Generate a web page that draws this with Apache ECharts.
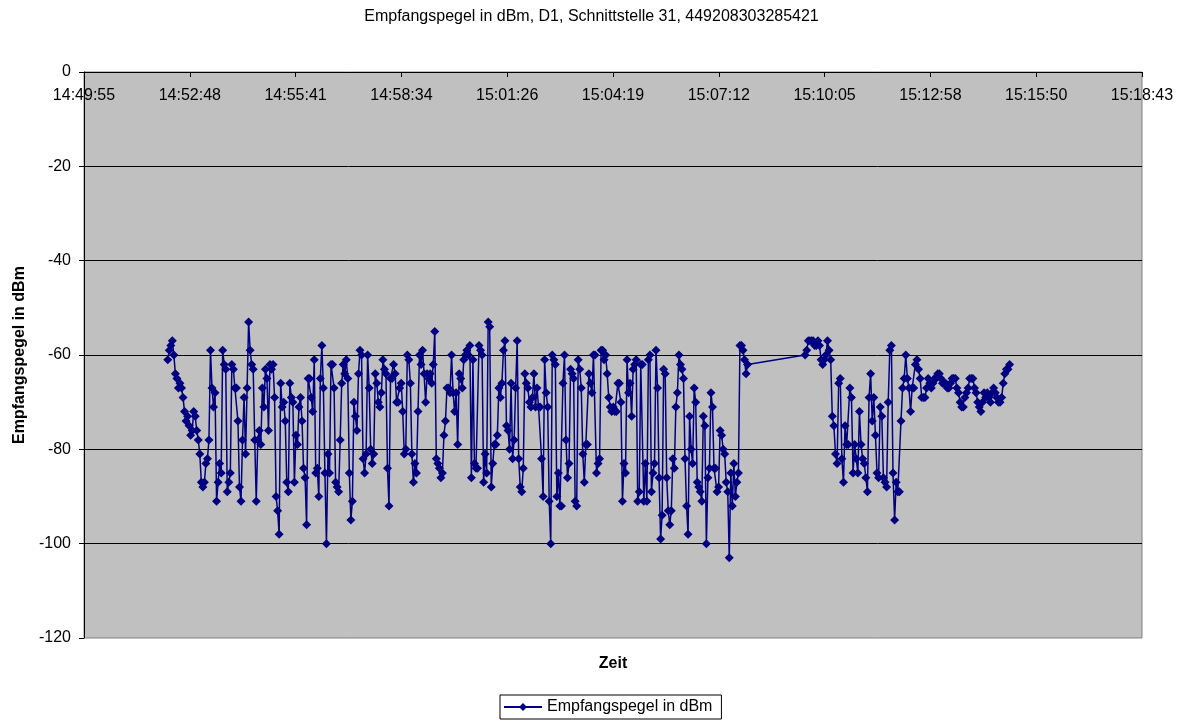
<!DOCTYPE html>
<html>
<head>
<meta charset="utf-8">
<script src="https://cdn.jsdelivr.net/npm/echarts@6/dist/echarts.min.js"></script>
<style>
  html, body { margin: 0; padding: 0; background: #fff; }
  #chart { width: 1183px; height: 721px; }
</style>
</head>
<body>
<div id="chart"></div>
<script>
// Messreihe 1 (14:52:12 - 15:07:59), Pegel in dBm
var seg1Start = "14:52:12";
var seg1End = "15:07:59";
var seg1Values = [
  -61, -59, -58, -57, -60, -64, -65, -67, -66, -67, -69, -72, -74, -73, -75, -77, -76, -72, -73, -76,
  -78, -81, -87, -88, -87, -83, -82, -78, -59, -67, -71, -68, -91, -87, -83, -85, -59, -62, -63, -89,
  -87, -85, -62, -63, -67, -67, -74, -88, -91, -78, -69, -81, -67, -53, -59, -62, -63, -78, -91, -78,
  -76, -79, -67, -71, -63, -65, -76, -62, -63, -62, -69, -90, -93, -98, -66, -71, -70, -74, -87, -89,
  -66, -69, -70, -87, -77, -79, -71, -69, -74, -84, -86, -96, -65, -65, -69, -72, -61, -85, -84, -90,
  -65, -58, -67, -85, -100, -81, -85, -62, -62, -67, -87, -88, -89, -78, -66, -62, -64, -61, -65, -85,
  -95, -91, -70, -73, -76, -64, -59, -60, -82, -85, -81,
  -60, -67, -80, -83, -81, -64, -66, -70, -71, -68, -61, -63, -64, -84, -92, -65, -65, -62, -64, -70,
  -70, -67, -66, -72, -81, -80, -60, -61, -66, -81, -87, -83, -85, -72, -60, -62, -59, -64, -70, -64,
  -65, -64, -66, -62, -55, -82, -83, -84, -86, -85, -77, -74, -67, -67, -68, -60, -68, -72, -68, -79,
  -64, -65, -67, -61, -60, -59, -60,
  -58, -86, -61, -83, -84, -84, -58, -59, -60, -87, -81, -85, -53, -54, -88, -83, -79, -79, -77, -67,
  -69, -66, -59, -57, -75, -76, -80, -66, -82, -78, -67, -57, -82, -88, -89, -84, -64, -66, -67, -70,
  -71, -69, -64, -71, -67, -71, -71, -82, -90, -61, -68, -71, -91, -100, -60, -61, -62, -90, -85, -92,
  -92, -66, -60, -78, -86, -83, -63, -64, -65, -91, -92,
  -61, -63, -67, -81, -87, -79, -79, -64, -66, -68, -60, -60, -85, -83, -82, -59, -59, -61, -60, -64,
  -69, -71, -72, -71, -72, -72, -66, -66, -70, -91, -83, -85, -61, -68, -66, -73, -63, -62, -61, -91,
  -89, -62, -62, -91, -83, -91, -61, -60, -89, -85, -83, -59, -67, -86, -99, -94, -63, -64, -86, -93,
  -96, -93, -82, -84, -71, -68,
  -60, -62, -63, -65, -82, -92, -98, -73, -80, -83, -67, -70, -87, -88, -89, -91, -73, -75, -100, -86,
  -84, -68, -71, -84, -84, -89, -88, -76, -77, -80, -81, -87, -89, -103, -85, -92, -83, -90, -87, -85,
  -58, -58, -59, -61, -64, -62
];

// Messreihe 2 (15:09:33 - 15:15:07)
var seg2Start = "15:09:33";
var seg2End = "15:15:07";
var seg2Values = [
  -60, -59, -57, -57, -57, -57, -58, -58, -57, -58, -61, -62, -61, -60, -57, -59, -61, -73, -75, -81,
  -83, -66, -65, -82, -87, -75, -79, -79, -67, -69, -85, -79, -82, -85, -72, -79, -82, -83, -86, -89,
  -69, -64, -74, -69, -77, -85, -86, -71, -73, -86, -87, -88, -70, -59, -58, -85, -95, -87, -89, -89,
  -74, -67, -65, -60, -65, -67, -72, -67, -67, -62, -61, -63, -65, -69, -69, -69, -67, -65, -66, -67,
  -66, -65, -65, -64, -64, -65, -66, -66, -66, -67, -67, -66, -65, -65, -65, -67, -68, -70, -71, -71,
  -69, -68, -67, -65, -65, -65, -67, -68, -70, -71, -72, -70, -68, -69, -68, -69, -70, -68, -67, -68,
  -69, -70, -70, -69, -66, -64, -63, -63, -62
];

// Achsen
var xMin = 53395.2;      // 14:49:55
var xMax = 55123.2;      // 15:18:43
var xStep = 172.8;       // 0,002 Tage
var yMin = -120;
var yMax = 0;
var yStep = 20;

function toSec(s) {
  var p = s.split(":");
  return (+p[0]) * 3600 + (+p[1]) * 60 + (+p[2]);
}
function pad(n) { return (n < 10 ? "0" : "") + n; }
function fmtTime(v) {
  var s = Math.round(v);
  return Math.floor(s / 3600) + ":" + pad(Math.floor((s % 3600) / 60)) + ":" + pad(s % 60);
}
function buildSeg(start, end, vals) {
  var t0 = toSec(start), t1 = toSec(end);
  var step = (t1 - t0) / (vals.length - 1);
  return vals.map(function (v, i) { return [t0 + i * step, v]; });
}

var data = buildSeg(seg1Start, seg1End, seg1Values).concat(buildSeg(seg2Start, seg2End, seg2Values));
var font = "'Liberation Sans', Arial, sans-serif";

var chart = echarts.init(document.getElementById("chart"));
var option = {
  animation: false,
  backgroundColor: "#fff",
  textStyle: { fontFamily: font, color: "#000" },
  title: {
    text: "Empfangspegel in dBm, D1, Schnittstelle 31, 449208303285421",
    left: "center",
    top: 9,
    padding: 0,
    textStyle: { fontSize: 16, fontWeight: "normal", color: "#000", fontFamily: font }
  },
  grid: {
    left: 84, right: 41, top: 72, bottom: 83,
    show: true,
    backgroundColor: "#c0c0c0",
    borderColor: "#808080",
    borderWidth: 1
  },
  xAxis: {
    type: "value",
    position: "top",   // Achse schneidet bei 0 = oben
    min: xMin,
    max: xMax,
    interval: xStep,
    axisLine: { onZero: false, lineStyle: { color: "#000", width: 1 } },
    axisTick: { show: true, inside: true, length: 5, lineStyle: { color: "#000" } },
    axisLabel: {
      inside: true,
      formatter: fmtTime,
      margin: 16,
      color: "#000",
      fontSize: 16,
      fontFamily: font,
      showMinLabel: true,
      showMaxLabel: true
    },
    splitLine: { show: false }
  },
  yAxis: {
    type: "value",
    min: yMin,
    max: yMax,
    interval: yStep,
    name: "Empfangspegel in dBm",
    nameLocation: "middle",
    nameGap: 54,
    nameTextStyle: { fontSize: 16, fontWeight: "bold", color: "#000", fontFamily: font },
    axisLine: { show: true, lineStyle: { color: "#000" } },
    axisTick: { show: true, length: 5, lineStyle: { color: "#000" } },
    axisLabel: { margin: 13, color: "#000", fontSize: 16, fontFamily: font },
    splitLine: { show: true, showMinLine: false, lineStyle: { color: "#000", width: 1 } }
  },
  legend: {
    left: 500,
    bottom: 2,
    padding: [4, 9, 4, 3],
    borderColor: "#000",
    borderWidth: 1,
    itemWidth: 38,
    itemHeight: 10,
    itemGap: 5,
    textStyle: { fontSize: 16, color: "#000", fontFamily: font },
    data: ["Empfangspegel in dBm"]
  },
  graphic: [{
    type: "text",
    x: 613,
    y: 664,
    style: { text: "Zeit", font: "bold 16px " + font, fill: "#000", textAlign: "center", textVerticalAlign: "middle" }
  }],
  series: [{
    name: "Empfangspegel in dBm",
    type: "line",
    data: data,
    symbol: "diamond",
    symbolSize: 9,
    lineStyle: { color: "#000080", width: 1.5 },
    itemStyle: { color: "#000080" }
  }]
};
chart.setOption(option);
</script>
</body>
</html>
